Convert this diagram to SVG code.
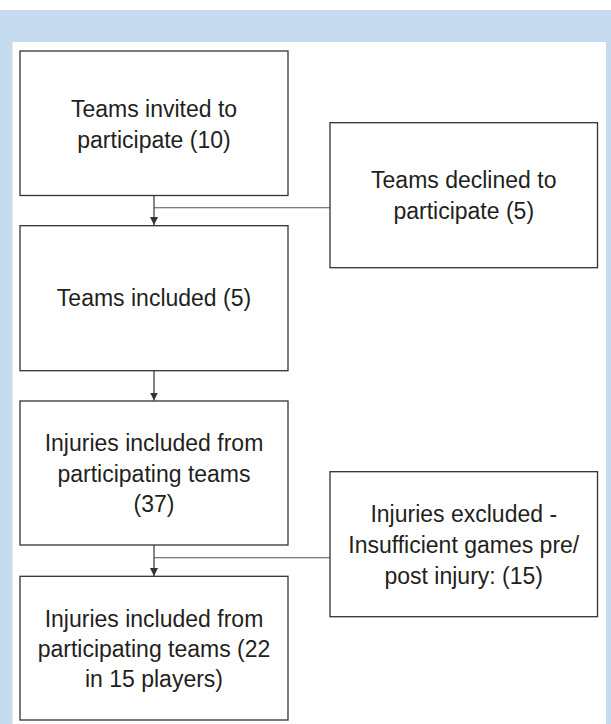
<svg xmlns="http://www.w3.org/2000/svg" width="611" height="724" viewBox="0 0 611 724">
<style>
.box{fill:#fff;stroke:#333;stroke-width:1.3}
.t{font-family:"Liberation Sans",Arial,sans-serif;font-size:23px;fill:#231f20;text-anchor:middle}
.c{fill:none;stroke:#444;stroke-width:1.3}
.h{fill:none;stroke:#555;stroke-width:1.1}
</style>
<defs>
<marker id="arr" markerUnits="userSpaceOnUse" markerWidth="10" markerHeight="10" viewBox="0 0 10 10" refX="8" refY="5" orient="auto">
<path d="M0,1 L8,5 L0,9 Z" fill="#333"/>
</marker>
</defs>
<rect x="0" y="0" width="611" height="724" fill="#fff"/>
<rect x="0" y="10" width="611" height="714" fill="#c6daf0"/>
<rect x="12.5" y="42" width="593.5" height="682" fill="#fff"/>
<g id="connectors">
<path class="c" d="M154,195.5 V225" marker-end="url(#arr)"/>
<path class="h" d="M154,207.7 H330"/>
<path class="c" d="M154,370.7 V400.5" marker-end="url(#arr)"/>
<path class="c" d="M154,545 V576" marker-end="url(#arr)"/>
<path class="h" d="M154,557.7 H330"/>
</g>
<g id="n1">
<rect class="box" x="20" y="51" width="268" height="144.5"/>
<text class="t" x="154" y="117.3">Teams invited to</text>
<text class="t" x="154" y="148.3">participate (10)</text>
</g>
<g id="n2">
<rect class="box" x="330" y="122.7" width="267.5" height="145"/>
<text class="t" x="463.75" y="188.3">Teams declined to</text>
<text class="t" x="463.75" y="219.3">participate (5)</text>
</g>
<g id="n3">
<rect class="box" x="20" y="225.7" width="268" height="145"/>
<text class="t" x="154" y="306">Teams included (5)</text>
</g>
<g id="n4">
<rect class="box" x="20" y="401" width="268" height="144"/>
<text class="t" x="154" y="450.7">Injuries included from</text>
<text class="t" x="154" y="481.7">participating teams</text>
<text class="t" x="154" y="512">(37)</text>
</g>
<g id="n5">
<rect class="box" x="330" y="471.7" width="267.5" height="145"/>
<text class="t" x="463.75" y="522">Injuries excluded -</text>
<text class="t" x="463.75" y="553">Insufficient games pre/</text>
<text class="t" x="463.75" y="584">post injury: (15)</text>
</g>
<g id="n6">
<rect class="box" x="20" y="576.3" width="268" height="143.7"/>
<text class="t" x="154" y="626.7">Injuries included from</text>
<text class="t" x="154" y="656.7">participating teams (22</text>
<text class="t" x="154" y="687.3">in 15 players)</text>
</g>
</svg>
